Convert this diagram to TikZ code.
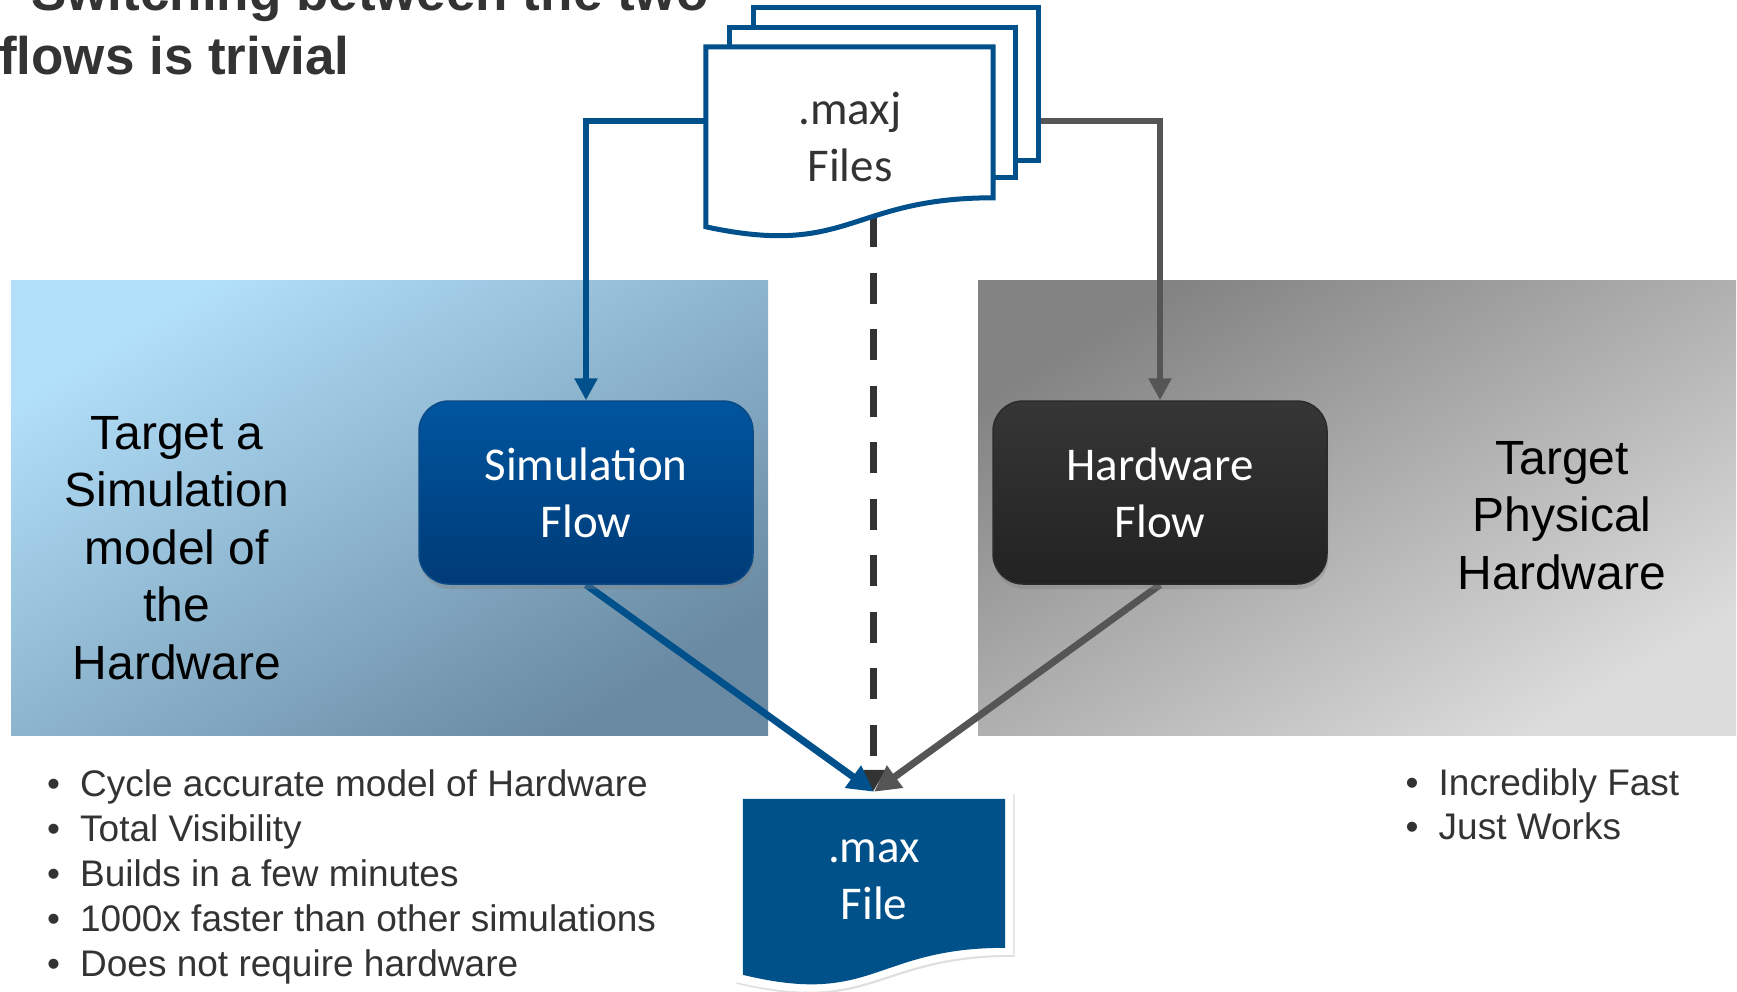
\documentclass[tikz,border=0pt]{standalone}
\usepackage{fontspec}
\setmainfont{Liberation Sans}
\newfontfamily\carlito{Carlito}
\usetikzlibrary{arrows.meta,shadows,calc}

\definecolor{flowblue}{HTML}{00508C}
\definecolor{fileblue}{HTML}{005089}
\definecolor{flowgray}{HTML}{555555}
\definecolor{dashgray}{HTML}{333333}
\definecolor{inkgray}{HTML}{333333}
\definecolor{skylight}{HTML}{B2DFFA}
\definecolor{skydark}{HTML}{698AA2}
\definecolor{greydark}{HTML}{838383}
\definecolor{greylight}{HTML}{DCDCDC}
\definecolor{simtop}{HTML}{00559F}
\definecolor{simbot}{HTML}{003B77}
\definecolor{simedge}{HTML}{0A4A86}
\definecolor{hwtop}{HTML}{363636}
\definecolor{hwbot}{HTML}{222222}
\definecolor{hwedge}{HTML}{2B2B2B}

\newcommand\boxfont{\carlito\fontsize{47}{57}\selectfont}
\newcommand\sidefont{\fontsize{48}{57.5}\selectfont}
\newcommand\listfont{\fontsize{37}{45}\selectfont}
\newcommand\headfont{\bfseries\fontsize{53}{64}\selectfont}
\newcommand\bul{\makebox[33pt][l]{•}}

\pgfdeclarelayer{panels}
\pgfdeclarelayer{wires}
\pgfsetlayers{panels,wires,main}

\begin{document}
\begin{tikzpicture}[x=1pt, y=-1pt,
  txt/.style={inner sep=0pt, align=center},
  flowbox/.style={rectangle, rounded corners=30pt, minimum width=334pt,
    minimum height=183pt, inner sep=0pt, line width=1.5pt,
    drop shadow={shadow xshift=1pt, shadow yshift=-5pt, opacity=0.35}},
  simbox/.style={flowbox, draw=simedge, top color=simtop, bottom color=simbot},
  hwbox/.style={flowbox, draw=hwedge, top color=hwtop, bottom color=hwbot},
  docsheet/.style={rectangle, draw=flowblue, line width=5pt, fill=white, inner sep=0pt},
  frame/.style={rectangle, inner sep=0pt},
  bluewire/.style={draw=flowblue, line width=5.5pt, line join=miter,
    -{Triangle[length=22pt, width=22pt]}},
  graywire/.style={draw=flowgray, line width=5.5pt, line join=miter,
    -{Triangle[length=22pt, width=22pt]}},
  bluediag/.style={draw=flowblue, line width=7pt, -{Triangle[length=26pt, width=26pt]}},
  graydiag/.style={draw=flowgray, line width=7pt, -{Triangle[length=26pt, width=26pt]}},
  dashwire/.style={draw=dashgray, line width=7pt, dash pattern=on 31pt off 25.5pt,
    -{Triangle[length=22pt, width=24pt]}}
]
\useasboundingbox (0,0) rectangle (1737,991);

% background panels
\begin{pgfonlayer}{panels}
  \fill[top color=skylight, bottom color=skydark, shading angle=31]
    (11,280) rectangle (768,735);
  \fill[top color=greydark, bottom color=greylight, shading angle=31]
    (978,280) rectangle (1736,735);
\end{pgfonlayer}

% heading
\node[txt, align=left, anchor=west, text=inkgray, font=\headfont] (head) at (-1,29.2)
  {\strut\hspace*{32pt}Switching between the two\\flows is trivial\strut};

% stacked .maxj sheets
\node[docsheet, minimum width=285pt, minimum height=153pt] (docc) at (895.5,83.5) {};
\node[docsheet, minimum width=286pt, minimum height=150pt] (docb) at (872,102) {};
\node[frame, minimum width=287pt, minimum height=148pt] (maxj) at (849.5,121) {};
\draw[draw=flowblue, line width=5pt, fill=white, line join=miter]
  (maxj.north west) -- (maxj.north east) -- ($(maxj.north east)+(0,151)$)
  .. controls ($(maxj.north)+(0,151)$) and ($(maxj.north)+(0,211)$) ..
  ($(maxj.north west)+(0,180)$) -- cycle;
\node[txt, text=inkgray, font=\boxfont] (maxjtext) at ($(maxj.center)+(0.5,21)$)
  {\strut.maxj\\Files\strut};
\coordinate (dashtop) at (873,216);

% flow boxes
\node[simbox] (sim) at (586,492.5) {};
\node[txt, text=white, font=\boxfont] (simtext) at ($(sim.center)+(0,4.6)$)
  {\strut Simulation\\Flow\strut};
\node[hwbox] (hw) at (1160,492.5) {};
\node[txt, text=white, font=\boxfont] (hwtext) at ($(hw.center)+(0,4.6)$)
  {\strut Hardware\\Flow\strut};

% .max output file
\node[frame, minimum width=278pt, minimum height=190pt] (maxfile) at (874,887) {};
\fill[white, drop shadow={shadow xshift=1.5pt, shadow yshift=-2pt, opacity=0.25}]
  (maxfile.north west) -- (maxfile.north east) -- ($(maxfile.north east)+(0,163)$)
  .. controls ($(maxfile.north)+(0,163)$) and ($(maxfile.north)+(0,223)$) ..
  ($(maxfile.north west)+(0,190)$) -- cycle;
\fill[fileblue]
  ($(maxfile.north west)+(8,7)$) -- ($(maxfile.north east)+(-8,7)$)
  -- ($(maxfile.north east)+(-8,156)$)
  .. controls ($(maxfile.north)+(0,156)$) and ($(maxfile.north)+(0,215)$) ..
  ($(maxfile.north west)+(8,183)$) -- cycle;
\node[txt, text=white, font=\boxfont] (maxtext) at (874,879.1)
  {\strut.max\\File\strut};

% side captions
\node[txt, text=black, font=\sidefont] (simcap) at (177,552.5)
  {\strut Target a\\Simulation\\model of\\the\\Hardware\strut};
\node[txt, text=black, font=\sidefont] (hwcap) at (1562,520)
  {\strut Target\\Physical\\Hardware\strut};

% bullet lists
\node[txt, align=left, anchor=west, text=inkgray, font=\listfont] (simlist) at (47,877)
  {\strut\bul Cycle accurate model of Hardware\\
   \bul Total Visibility\\
   \bul Builds in a few minutes\\
   \bul 1000x faster than other simulations\\
   \bul Does not require hardware\strut};
\node[txt, align=left, anchor=west, text=inkgray,
  font=\fontsize{37}{44}\selectfont] (hwlist) at (1405.5,808.2)
  {\strut\bul Incredibly Fast\\
   \bul Just Works\strut};

% connectors
\begin{pgfonlayer}{wires}
  \draw[dashwire] (dashtop) -- (dashtop |- maxfile.north);
  \draw[bluewire] (maxj.west) -| (sim.north);
  \draw[graywire] (docc.east |- maxj.west) -| (hw.north);
  \draw[bluediag] (sim.south) -- (maxfile.north);
  \draw[graydiag] (hw.south) -- (maxfile.north);
\end{pgfonlayer}
\end{tikzpicture}
\end{document}
